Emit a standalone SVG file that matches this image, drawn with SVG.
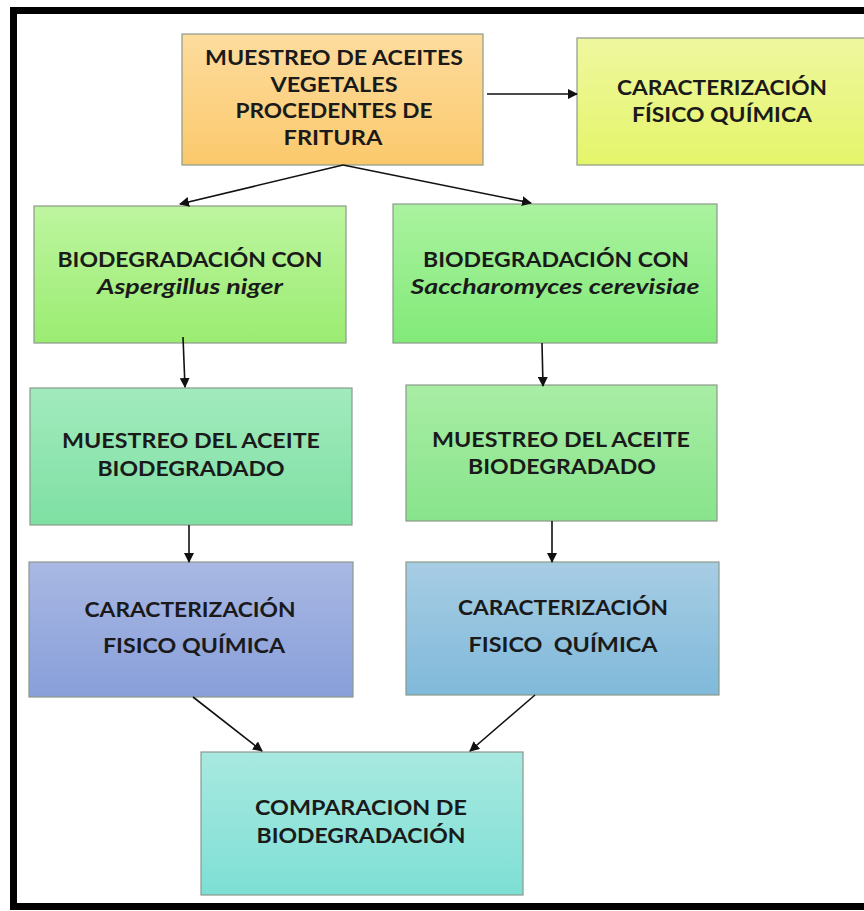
<svg xmlns="http://www.w3.org/2000/svg" width="864" height="911" viewBox="0 0 864 911">
<defs>
<style>
.box{stroke:#8a9a8a;stroke-width:1.2}
.t{font-family:Lato,"Open Sans","Liberation Sans",sans-serif;font-weight:bold;font-size:20px;fill:#1a1a1a;text-anchor:middle}
.i{font-style:italic}
.c{stroke:#111;stroke-width:1.6;fill:none;marker-end:url(#ah)}
</style>
<marker id="ah" markerWidth="10" markerHeight="10" refX="9" refY="5" orient="auto" markerUnits="userSpaceOnUse" viewBox="0 0 10 10">
<path d="M0,0 L10,5 L0,10 Z" fill="#111"/>
</marker>
<linearGradient id="g1" x1="0" y1="0" x2="0" y2="1"><stop offset="0" stop-color="#fddc9e"/><stop offset="1" stop-color="#fbc96c"/></linearGradient>
<linearGradient id="g2" x1="0" y1="0" x2="0" y2="1"><stop offset="0" stop-color="#eff79f"/><stop offset="1" stop-color="#e5f56a"/></linearGradient>
<linearGradient id="g3" x1="0" y1="0" x2="0" y2="1"><stop offset="0" stop-color="#bdf59f"/><stop offset="1" stop-color="#9bec72"/></linearGradient>
<linearGradient id="g4" x1="0" y1="0" x2="0" y2="1"><stop offset="0" stop-color="#aaf29f"/><stop offset="1" stop-color="#82ea79"/></linearGradient>
<linearGradient id="g5" x1="0" y1="0" x2="0" y2="1"><stop offset="0" stop-color="#a2eabd"/><stop offset="1" stop-color="#7ee0a3"/></linearGradient>
<linearGradient id="g6" x1="0" y1="0" x2="0" y2="1"><stop offset="0" stop-color="#a8eda4"/><stop offset="1" stop-color="#88e48c"/></linearGradient>
<linearGradient id="g7" x1="0" y1="0" x2="0" y2="1"><stop offset="0" stop-color="#a9b8e3"/><stop offset="1" stop-color="#889fda"/></linearGradient>
<linearGradient id="g8" x1="0" y1="0" x2="0" y2="1"><stop offset="0" stop-color="#a7cde4"/><stop offset="1" stop-color="#80b9da"/></linearGradient>
<linearGradient id="g9" x1="0" y1="0" x2="0" y2="1"><stop offset="0" stop-color="#a8e9e0"/><stop offset="1" stop-color="#7edfd5"/></linearGradient>
</defs>
<rect x="0" y="0" width="864" height="911" fill="#fff"/>
<rect x="13.5" y="10.5" width="860" height="896" fill="none" stroke="#000" stroke-width="7"/>

<g id="n1"><rect class="box" x="182" y="34" width="301" height="131" fill="url(#g1)"/>
<text class="t" x="334" y="65" textLength="258" lengthAdjust="spacingAndGlyphs">MUESTREO DE ACEITES</text>
<text class="t" x="334" y="92" textLength="127" lengthAdjust="spacingAndGlyphs">VEGETALES</text>
<text class="t" x="334" y="118" textLength="197" lengthAdjust="spacingAndGlyphs">PROCEDENTES DE</text>
<text class="t" x="333" y="145" textLength="99" lengthAdjust="spacingAndGlyphs">FRITURA</text></g>

<g id="n2"><rect class="box" x="577" y="38" width="300" height="127" fill="url(#g2)"/>
<text class="t" x="722" y="95" textLength="210" lengthAdjust="spacingAndGlyphs">CARACTERIZACIÓN</text>
<text class="t" x="722" y="122" textLength="180" lengthAdjust="spacingAndGlyphs">FÍSICO QUÍMICA</text></g>

<g id="n3"><rect class="box" x="34" y="206" width="312" height="137" fill="url(#g3)"/>
<text class="t" x="190" y="267" textLength="265" lengthAdjust="spacingAndGlyphs">BIODEGRADACIÓN CON</text>
<text class="t i" x="190" y="294" textLength="186" lengthAdjust="spacingAndGlyphs">Aspergillus niger</text></g>

<g id="n4"><rect class="box" x="393" y="204" width="324" height="139" fill="url(#g4)"/>
<text class="t" x="556" y="267" textLength="266" lengthAdjust="spacingAndGlyphs">BIODEGRADACIÓN CON</text>
<text class="t i" x="555" y="294" textLength="289" lengthAdjust="spacingAndGlyphs">Saccharomyces cerevisiae</text></g>

<g id="n5"><rect class="box" x="30" y="388" width="322" height="137" fill="url(#g5)"/>
<text class="t" x="191" y="448" textLength="258" lengthAdjust="spacingAndGlyphs">MUESTREO DEL ACEITE</text>
<text class="t" x="191" y="476" textLength="187" lengthAdjust="spacingAndGlyphs">BIODEGRADADO</text></g>

<g id="n6"><rect class="box" x="406" y="385" width="311" height="136" fill="url(#g6)"/>
<text class="t" x="561" y="447" textLength="258" lengthAdjust="spacingAndGlyphs">MUESTREO DEL ACEITE</text>
<text class="t" x="562" y="474" textLength="188" lengthAdjust="spacingAndGlyphs">BIODEGRADADO</text></g>

<g id="n7"><rect class="box" x="29" y="562" width="324" height="135" fill="url(#g7)"/>
<text class="t" x="190" y="617" textLength="211" lengthAdjust="spacingAndGlyphs">CARACTERIZACIÓN</text>
<text class="t" x="194" y="653" textLength="182" lengthAdjust="spacingAndGlyphs">FISICO QUÍMICA</text></g>

<g id="n8"><rect class="box" x="406" y="562" width="313" height="133" fill="url(#g8)"/>
<text class="t" x="563" y="615" textLength="210" lengthAdjust="spacingAndGlyphs">CARACTERIZACIÓN</text>
<text class="t" x="563" y="652" textLength="189" lengthAdjust="spacingAndGlyphs" xml:space="preserve">FISICO  QUÍMICA</text></g>

<g id="n9"><rect class="box" x="201" y="752" width="322" height="143" fill="url(#g9)"/>
<text class="t" x="361" y="815" textLength="212" lengthAdjust="spacingAndGlyphs">COMPARACION DE</text>
<text class="t" x="361" y="843" textLength="209" lengthAdjust="spacingAndGlyphs">BIODEGRADACIÓN</text></g>

<g id="connectors">
<line class="c" x1="487" y1="94" x2="577" y2="94"/>
<line class="c" x1="343" y1="165" x2="180" y2="204"/>
<line class="c" x1="343" y1="165" x2="531" y2="203"/>
<line class="c" x1="183" y1="337" x2="185" y2="387"/>
<line class="c" x1="542" y1="343" x2="543" y2="386"/>
<line class="c" x1="189" y1="525" x2="189" y2="562"/>
<line class="c" x1="552" y1="521" x2="552" y2="562"/>
<line class="c" x1="193" y1="697" x2="262" y2="751"/>
<line class="c" x1="535" y1="695" x2="470" y2="751"/>
</g>
</svg>
